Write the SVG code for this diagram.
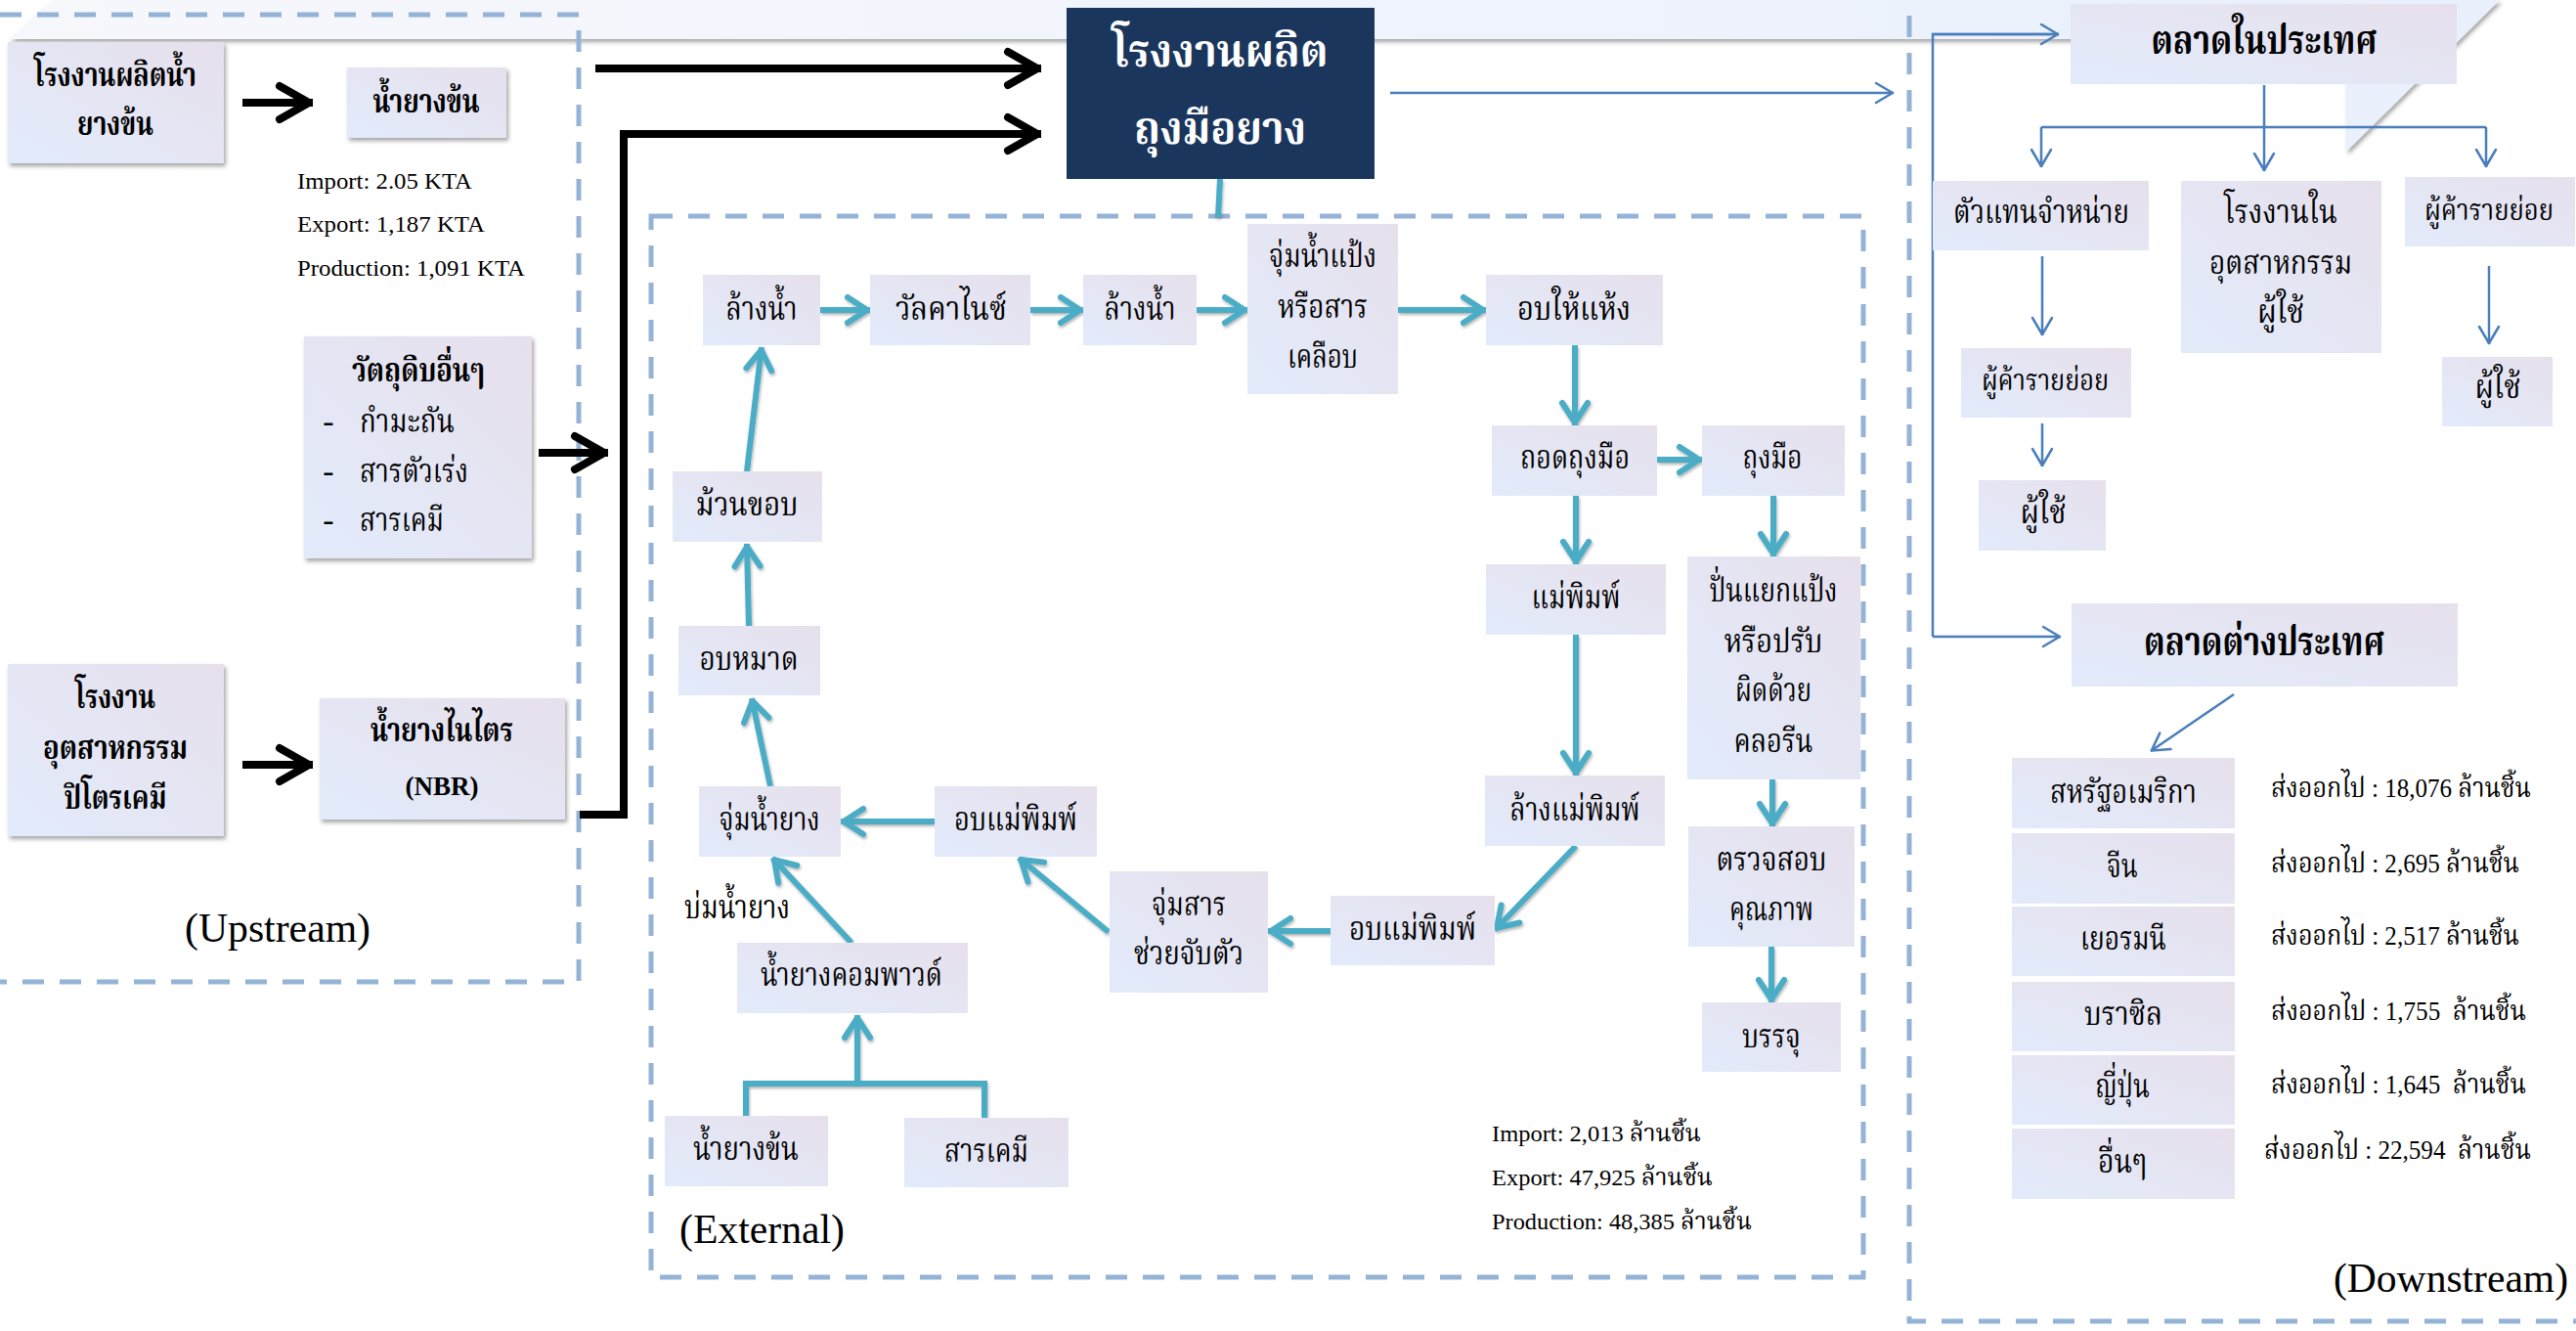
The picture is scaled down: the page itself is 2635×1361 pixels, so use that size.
<svg xmlns="http://www.w3.org/2000/svg" width="2635" height="1361" viewBox="0 0 2635 1361">
<defs>
  <linearGradient id="nodeFill" x1="0" y1="1" x2="1" y2="0">
    <stop offset="0" stop-color="#e2ebfb"/>
    <stop offset="1" stop-color="#e7e0ec"/>
  </linearGradient>
  <linearGradient id="bannerFill" x1="0" y1="0" x2="1" y2="0">
    <stop offset="0" stop-color="#f7f8fc"/>
    <stop offset="1" stop-color="#e9f0fc"/>
  </linearGradient>
  <filter id="shadow" x="-10%" y="-10%" width="130%" height="130%">
    <feDropShadow dx="2" dy="3" stdDeviation="2" flood-color="#000" flood-opacity="0.35"/>
  </filter>
  <filter id="soft" x="-10%" y="-10%" width="130%" height="130%">
    <feDropShadow dx="1" dy="2" stdDeviation="1.5" flood-color="#000" flood-opacity="0.3"/>
  </filter>
  <marker id="ahTeal" markerUnits="userSpaceOnUse" viewBox="-30 -20 40 40" markerWidth="40" markerHeight="40" refX="3" refY="0" orient="auto">
    <path d="M-20,-13 L0,0 L-20,13" fill="none" stroke="#4bacc6" stroke-width="6" stroke-linecap="round" stroke-linejoin="round"/>
  </marker>
  <marker id="ahBlack" markerUnits="userSpaceOnUse" viewBox="-45 -30 60 60" markerWidth="60" markerHeight="60" refX="4" refY="0" orient="auto">
    <path d="M-30,-17 L0,0 L-30,17" fill="none" stroke="#000" stroke-width="8" stroke-linecap="round" stroke-linejoin="round"/>
  </marker>
  <marker id="ahBlue" markerUnits="userSpaceOnUse" viewBox="-25 -15 30 30" markerWidth="30" markerHeight="30" refX="1" refY="0" orient="auto">
    <path d="M-17,-10 L0,0 L-17,10" fill="none" stroke="#4a7ebb" stroke-width="2.5" stroke-linecap="round" stroke-linejoin="round"/>
  </marker>
  <style>
    .node { fill: url(#nodeFill); }
    .up { fill: url(#nodeFill); filter: url(#shadow); }
    .dash { fill: none; stroke: #95b3d7; stroke-width: 5; stroke-dasharray: 22 16; }
    .th { font-family: 'Liberation Serif', 'Noto Serif Thai', 'Noto Sans Thai', serif; font-size: 34px; fill: #000; text-anchor: middle; }
    .b { font-weight: bold; }
    .st { text-anchor: start; }
    .en { font-family: 'Liberation Serif', serif; font-size: 24px; fill: #000; }
    .exp { font-size: 28px; text-anchor: start; }
    .teal { fill: none; stroke: #4bacc6; stroke-width: 6; }
    .tealA { fill: none; stroke: #4bacc6; stroke-width: 6; marker-end: url(#ahTeal); }
    .blk { fill: none; stroke: #000; stroke-width: 8; }
    .blkA { fill: none; stroke: #000; stroke-width: 8; marker-end: url(#ahBlack); }
    .blu { fill: none; stroke: #4a7ebb; stroke-width: 2.5; }
    .bluA { fill: none; stroke: #4a7ebb; stroke-width: 2.5; marker-end: url(#ahBlue); }
  </style>
</defs>

<rect x="0" y="0" width="2635" height="1361" fill="#ffffff"/>

<!-- decorative banner -->
<polygon points="53,0 2557,0 2400,155 2400,40 9,40" fill="url(#bannerFill)" filter="url(#shadow)"/>

<!-- region frames -->
<g id="frames">
  <path class="dash" d="M0,15 H592 V1004 H0"/>
  <rect class="dash" x="666" y="221" width="1240" height="1085"/>
  <path class="dash" d="M1953,16 V1351 H2635"/>
  <text class="en" x="189" y="963" textLength="190" lengthAdjust="spacingAndGlyphs" style="font-size:42px">(Upstream)</text>
  <text class="en" x="695" y="1271" textLength="169" lengthAdjust="spacingAndGlyphs" style="font-size:42px">(External)</text>
  <text class="en" x="2387" y="1321" textLength="240" lengthAdjust="spacingAndGlyphs" style="font-size:42px">(Downstream)</text>
</g>

<!-- connectors -->
<g id="connectors">
  <!-- black upstream arrows -->
  <line class="blkA" x1="248" y1="105" x2="320" y2="105"/>
  <line class="blkA" x1="248" y1="782" x2="320" y2="782"/>
  <line class="blkA" x1="551" y1="463" x2="622" y2="463"/>
  <line class="blkA" x1="609" y1="70" x2="1065" y2="70"/>
  <polyline class="blkA" points="593,833 638,833 638,137 1065,137" stroke-linejoin="miter"/>

  <!-- blue downstream arrows -->
  <line class="bluA" x1="1422" y1="95" x2="1937" y2="95"/>
  <polyline class="blu" points="2106,35 1977,35 1977,651"/>
  <line class="bluA" x1="1977" y1="35" x2="2106" y2="35"/>
  <line class="bluA" x1="1977" y1="651" x2="2108" y2="651"/>
  <line class="bluA" x1="2316" y1="87" x2="2316" y2="175"/>
  <line class="blu" x1="2088" y1="130" x2="2543" y2="130"/>
  <line class="bluA" x1="2088" y1="130" x2="2088" y2="171"/>
  <line class="bluA" x1="2543" y1="130" x2="2543" y2="171"/>
  <line class="bluA" x1="2089" y1="262" x2="2089" y2="343"/>
  <line class="bluA" x1="2089" y1="433" x2="2089" y2="477"/>
  <line class="bluA" x1="2546" y1="272" x2="2546" y2="352"/>
  <line class="bluA" x1="2285" y1="710" x2="2200" y2="768"/>

  <!-- teal process arrows -->
  <g filter="url(#soft)">
    <line class="teal" x1="1248" y1="183" x2="1246" y2="222"/>
    <line class="tealA" x1="839" y1="317" x2="890" y2="317"/>
    <line class="tealA" x1="1054" y1="317" x2="1108" y2="317"/>
    <line class="tealA" x1="1224" y1="317" x2="1276" y2="317"/>
    <line class="tealA" x1="1430" y1="317" x2="1520" y2="317"/>
    <line class="tealA" x1="1611" y1="353" x2="1611" y2="435"/>
    <line class="tealA" x1="1695" y1="470" x2="1741" y2="470"/>
    <line class="tealA" x1="1612" y1="507" x2="1612" y2="577"/>
    <line class="tealA" x1="1612" y1="649" x2="1612" y2="793"/>
    <line class="tealA" x1="1612" y1="865" x2="1529" y2="951"/>
    <line class="tealA" x1="1362" y1="952" x2="1297" y2="952"/>
    <line class="tealA" x1="1134" y1="953" x2="1042" y2="877"/>
    <line class="tealA" x1="956" y1="840" x2="860" y2="840"/>
    <line class="tealA" x1="871" y1="964" x2="790" y2="877"/>
    <line class="tealA" x1="788" y1="804" x2="769" y2="714"/>
    <line class="tealA" x1="766" y1="640" x2="764" y2="556"/>
    <line class="tealA" x1="764" y1="482" x2="779" y2="355"/>
    <line class="tealA" x1="1814" y1="507" x2="1814" y2="569"/>
    <line class="tealA" x1="1813" y1="797" x2="1813" y2="845"/>
    <line class="tealA" x1="1812" y1="968" x2="1812" y2="1025"/>
    <line class="tealA" x1="877" y1="1108" x2="877" y2="1038"/>
    <polyline class="teal" points="763,1141 763,1108 1007,1108 1007,1143"/>
  </g>
</g>

<!-- upstream nodes -->
<g id="n-latex-factory">
  <rect class="up" x="8" y="43" width="221" height="124"/>
  <text class="th b" x="118" y="88" textLength="166" lengthAdjust="spacingAndGlyphs">โรงงานผลิตน้ำ</text>
  <text class="th b" x="118" y="138" textLength="78" lengthAdjust="spacingAndGlyphs">ยางข้น</text>
</g>
<g id="n-latex">
  <rect class="up" x="355" y="69" width="163" height="72"/>
  <text class="th b" x="436" y="115" textLength="109" lengthAdjust="spacingAndGlyphs">น้ำยางข้น</text>
</g>
<g id="latex-stats">
  <text class="en" x="304" y="193" textLength="179" lengthAdjust="spacingAndGlyphs">Import: 2.05 KTA</text>
  <text class="en" x="304" y="237" textLength="192" lengthAdjust="spacingAndGlyphs">Export: 1,187 KTA</text>
  <text class="en" x="304" y="282" textLength="233" lengthAdjust="spacingAndGlyphs">Production: 1,091 KTA</text>
</g>
<g id="n-raw">
  <rect class="up" x="311" y="344" width="233" height="227"/>
  <text class="th b" x="428" y="390" textLength="136" lengthAdjust="spacingAndGlyphs">วัตถุดิบอื่นๆ</text>
  <text class="th" x="336" y="442">-</text>
  <text class="th st" x="368" y="442" textLength="97" lengthAdjust="spacingAndGlyphs">กำมะถัน</text>
  <text class="th" x="336" y="493">-</text>
  <text class="th st" x="368" y="493" textLength="111" lengthAdjust="spacingAndGlyphs">สารตัวเร่ง</text>
  <text class="th" x="336" y="543">-</text>
  <text class="th st" x="368" y="543" textLength="86" lengthAdjust="spacingAndGlyphs">สารเคมี</text>
</g>
<g id="n-petro">
  <rect class="up" x="8" y="679" width="221" height="176"/>
  <text class="th b" x="118" y="724" textLength="82" lengthAdjust="spacingAndGlyphs">โรงงาน</text>
  <text class="th b" x="118" y="776" textLength="148" lengthAdjust="spacingAndGlyphs">อุตสาหกรรม</text>
  <text class="th b" x="118" y="827" textLength="105" lengthAdjust="spacingAndGlyphs">ปิโตรเคมี</text>
</g>
<g id="n-nbr">
  <rect class="up" x="327" y="714" width="251" height="124"/>
  <text class="th b" x="452" y="758" textLength="146" lengthAdjust="spacingAndGlyphs">น้ำยางไนไตร</text>
  <text class="en b" x="452" y="813" text-anchor="middle" style="font-size:27px">(NBR)</text>
</g>

<!-- main node -->
<g id="n-glove-factory">
  <rect x="1091" y="8" width="315" height="175" fill="#1b365d"/>
  <text class="th b" x="1248" y="68" style="font-size:46px;fill:#fff" textLength="221" lengthAdjust="spacingAndGlyphs">โรงงานผลิต</text>
  <text class="th b" x="1248" y="147" style="font-size:46px;fill:#fff" textLength="176" lengthAdjust="spacingAndGlyphs">ถุงมือยาง</text>
</g>

<!-- external process nodes -->
<g id="n-wash1"><rect class="node" x="719" y="281" width="120" height="72"/>
  <text class="th" x="779" y="327" textLength="73" lengthAdjust="spacingAndGlyphs">ล้างน้ำ</text></g>
<g id="n-vulcanize"><rect class="node" x="890" y="281" width="164" height="72"/>
  <text class="th" x="973" y="327" textLength="114" lengthAdjust="spacingAndGlyphs">วัลคาไนซ์</text></g>
<g id="n-wash2"><rect class="node" x="1108" y="281" width="116" height="72"/>
  <text class="th" x="1166" y="327" textLength="73" lengthAdjust="spacingAndGlyphs">ล้างน้ำ</text></g>
<g id="n-starch"><rect class="node" x="1276" y="229" width="154" height="174"/>
  <text class="th" x="1353" y="273" textLength="110" lengthAdjust="spacingAndGlyphs">จุ่มน้ำแป้ง</text>
  <text class="th" x="1353" y="325" textLength="92" lengthAdjust="spacingAndGlyphs">หรือสาร</text>
  <text class="th" x="1353" y="376" textLength="72" lengthAdjust="spacingAndGlyphs">เคลือบ</text></g>
<g id="n-dry"><rect class="node" x="1520" y="281" width="181" height="72"/>
  <text class="th" x="1610" y="327" textLength="116" lengthAdjust="spacingAndGlyphs">อบให้แห้ง</text></g>
<g id="n-strip"><rect class="node" x="1526" y="435" width="169" height="72"/>
  <text class="th" x="1611" y="479" textLength="112" lengthAdjust="spacingAndGlyphs">ถอดถุงมือ</text></g>
<g id="n-glove"><rect class="node" x="1741" y="435" width="146" height="72"/>
  <text class="th" x="1813" y="479" textLength="61" lengthAdjust="spacingAndGlyphs">ถุงมือ</text></g>
<g id="n-former"><rect class="node" x="1520" y="577" width="184" height="72"/>
  <text class="th" x="1612" y="622" textLength="91" lengthAdjust="spacingAndGlyphs">แม่พิมพ์</text></g>
<g id="n-former-wash"><rect class="node" x="1519" y="793" width="184" height="72"/>
  <text class="th" x="1611" y="839" textLength="133" lengthAdjust="spacingAndGlyphs">ล้างแม่พิมพ์</text></g>
<g id="n-chlorinate"><rect class="node" x="1726" y="569" width="177" height="228"/>
  <text class="th" x="1814" y="615" textLength="131" lengthAdjust="spacingAndGlyphs">ปั่นแยกแป้ง</text>
  <text class="th" x="1814" y="667" textLength="101" lengthAdjust="spacingAndGlyphs">หรือปรับ</text>
  <text class="th" x="1814" y="717" textLength="78" lengthAdjust="spacingAndGlyphs">ผิดด้วย</text>
  <text class="th" x="1814" y="769" textLength="81" lengthAdjust="spacingAndGlyphs">คลอรีน</text></g>
<g id="n-inspect"><rect class="node" x="1727" y="845" width="170" height="123"/>
  <text class="th" x="1812" y="890" textLength="113" lengthAdjust="spacingAndGlyphs">ตรวจสอบ</text>
  <text class="th" x="1812" y="941" textLength="86" lengthAdjust="spacingAndGlyphs">คุณภาพ</text></g>
<g id="n-pack"><rect class="node" x="1741" y="1025" width="142" height="71"/>
  <text class="th" x="1812" y="1071" textLength="60" lengthAdjust="spacingAndGlyphs">บรรจุ</text></g>
<g id="n-bead"><rect class="node" x="688" y="482" width="153" height="72"/>
  <text class="th" x="764" y="527" textLength="105" lengthAdjust="spacingAndGlyphs">ม้วนขอบ</text></g>
<g id="n-predry"><rect class="node" x="694" y="640" width="145" height="71"/>
  <text class="th" x="766" y="685" textLength="101" lengthAdjust="spacingAndGlyphs">อบหมาด</text></g>
<g id="n-dip-latex"><rect class="node" x="715" y="804" width="145" height="72"/>
  <text class="th" x="787" y="849" textLength="103" lengthAdjust="spacingAndGlyphs">จุ่มน้ำยาง</text></g>
<g id="n-oven1"><rect class="node" x="956" y="804" width="166" height="72"/>
  <text class="th" x="1039" y="849" textLength="126" lengthAdjust="spacingAndGlyphs">อบแม่พิมพ์</text></g>
<g id="n-coagulant"><rect class="node" x="1135" y="891" width="162" height="124"/>
  <text class="th" x="1216" y="936" textLength="76" lengthAdjust="spacingAndGlyphs">จุ่มสาร</text>
  <text class="th" x="1216" y="986" textLength="112" lengthAdjust="spacingAndGlyphs">ช่วยจับตัว</text></g>
<g id="n-oven2"><rect class="node" x="1361" y="916" width="168" height="71"/>
  <text class="th" x="1445" y="961" textLength="130" lengthAdjust="spacingAndGlyphs">อบแม่พิมพ์</text></g>
<g id="n-compound"><rect class="node" x="754" y="964" width="236" height="72"/>
  <text class="th" x="871" y="1008" textLength="186" lengthAdjust="spacingAndGlyphs">น้ำยางคอมพาวด์</text></g>
<g id="lbl-mature">
  <text class="th st" x="700" y="939" textLength="108" lengthAdjust="spacingAndGlyphs">บ่มน้ำยาง</text></g>
<g id="n-latex2"><rect class="node" x="680" y="1141" width="167" height="72"/>
  <text class="th" x="763" y="1186" textLength="108" lengthAdjust="spacingAndGlyphs">น้ำยางข้น</text></g>
<g id="n-chem"><rect class="node" x="925" y="1143" width="168" height="71"/>
  <text class="th" x="1009" y="1188" textLength="86" lengthAdjust="spacingAndGlyphs">สารเคมี</text></g>
<g id="glove-stats">
  <text class="th st" x="1526" y="1167" style="font-size:24px" textLength="214" lengthAdjust="spacingAndGlyphs">Import: 2,013 ล้านชิ้น</text>
  <text class="th st" x="1526" y="1212" style="font-size:24px" textLength="226" lengthAdjust="spacingAndGlyphs">Export: 47,925 ล้านชิ้น</text>
  <text class="th st" x="1526" y="1257" style="font-size:24px" textLength="266" lengthAdjust="spacingAndGlyphs">Production: 48,385 ล้านชิ้น</text>
</g>

<!-- downstream nodes -->
<g id="n-domestic"><rect class="node" x="2118" y="4" width="395" height="82"/>
  <text class="th b" x="2316" y="55" style="font-size:40px" textLength="231" lengthAdjust="spacingAndGlyphs">ตลาดในประเทศ</text></g>
<g id="n-dealer"><rect class="node" x="1977" y="185" width="221" height="71"/>
  <text class="th" x="2088" y="228" textLength="180" lengthAdjust="spacingAndGlyphs">ตัวแทนจำหน่าย</text></g>
<g id="n-industry"><rect class="node" x="2231" y="185" width="205" height="176"/>
  <text class="th" x="2333" y="228" textLength="116" lengthAdjust="spacingAndGlyphs">โรงงานใน</text>
  <text class="th" x="2333" y="280" textLength="146" lengthAdjust="spacingAndGlyphs">อุตสาหกรรม</text>
  <text class="th" x="2333" y="330" textLength="48" lengthAdjust="spacingAndGlyphs">ผู้ใช้</text></g>
<g id="n-retail-r"><rect class="node" x="2460" y="181" width="174" height="71"/>
  <text class="th" x="2546" y="225" style="font-size:30px" textLength="132" lengthAdjust="spacingAndGlyphs">ผู้ค้ารายย่อย</text></g>
<g id="n-user-r"><rect class="node" x="2498" y="365" width="113" height="71"/>
  <text class="th" x="2555" y="407" textLength="47" lengthAdjust="spacingAndGlyphs">ผู้ใช้</text></g>
<g id="n-retail-l"><rect class="node" x="2006" y="356" width="174" height="71"/>
  <text class="th" x="2092" y="399" style="font-size:30px" textLength="130" lengthAdjust="spacingAndGlyphs">ผู้ค้ารายย่อย</text></g>
<g id="n-user-l"><rect class="node" x="2024" y="491" width="130" height="72"/>
  <text class="th" x="2090" y="535" textLength="47" lengthAdjust="spacingAndGlyphs">ผู้ใช้</text></g>
<g id="n-export"><rect class="node" x="2119" y="617" width="395" height="85"/>
  <text class="th b" x="2316" y="670" style="font-size:40px" textLength="246" lengthAdjust="spacingAndGlyphs">ตลาดต่างประเทศ</text></g>

<g id="n-usa"><rect class="node" x="2058" y="775" width="228" height="72"/>
  <text class="th" x="2172" y="821" textLength="150" lengthAdjust="spacingAndGlyphs">สหรัฐอเมริกา</text></g>
<g id="n-china"><rect class="node" x="2058" y="852" width="228" height="72"/>
  <text class="th" x="2171" y="897" textLength="32" lengthAdjust="spacingAndGlyphs">จีน</text></g>
<g id="n-germany"><rect class="node" x="2058" y="927" width="228" height="71"/>
  <text class="th" x="2172" y="971" textLength="88" lengthAdjust="spacingAndGlyphs">เยอรมนี</text></g>
<g id="n-brazil"><rect class="node" x="2058" y="1004" width="228" height="71"/>
  <text class="th" x="2172" y="1048" textLength="80" lengthAdjust="spacingAndGlyphs">บราซิล</text></g>
<g id="n-japan"><rect class="node" x="2058" y="1079" width="228" height="71"/>
  <text class="th" x="2171" y="1122" textLength="56" lengthAdjust="spacingAndGlyphs">ญี่ปุ่น</text></g>
<g id="n-others"><rect class="node" x="2058" y="1154" width="228" height="72"/>
  <text class="th" x="2171" y="1199" textLength="50" lengthAdjust="spacingAndGlyphs">อื่นๆ</text></g>

<g id="export-volumes">
  <text class="th exp" x="2323" y="815" textLength="266" lengthAdjust="spacingAndGlyphs">ส่งออกไป : 18,076 ล้านชิ้น</text>
  <text class="th exp" x="2323" y="892" textLength="254" lengthAdjust="spacingAndGlyphs">ส่งออกไป : 2,695 ล้านชิ้น</text>
  <text class="th exp" x="2323" y="966" textLength="254" lengthAdjust="spacingAndGlyphs">ส่งออกไป : 2,517 ล้านชิ้น</text>
  <text class="th exp" x="2323" y="1043" textLength="261" lengthAdjust="spacingAndGlyphs">ส่งออกไป : 1,755&#160; ล้านชิ้น</text>
  <text class="th exp" x="2323" y="1118" textLength="261" lengthAdjust="spacingAndGlyphs">ส่งออกไป : 1,645&#160; ล้านชิ้น</text>
  <text class="th exp" x="2316" y="1185" textLength="273" lengthAdjust="spacingAndGlyphs">ส่งออกไป : 22,594&#160; ล้านชิ้น</text>
</g>
</svg>
